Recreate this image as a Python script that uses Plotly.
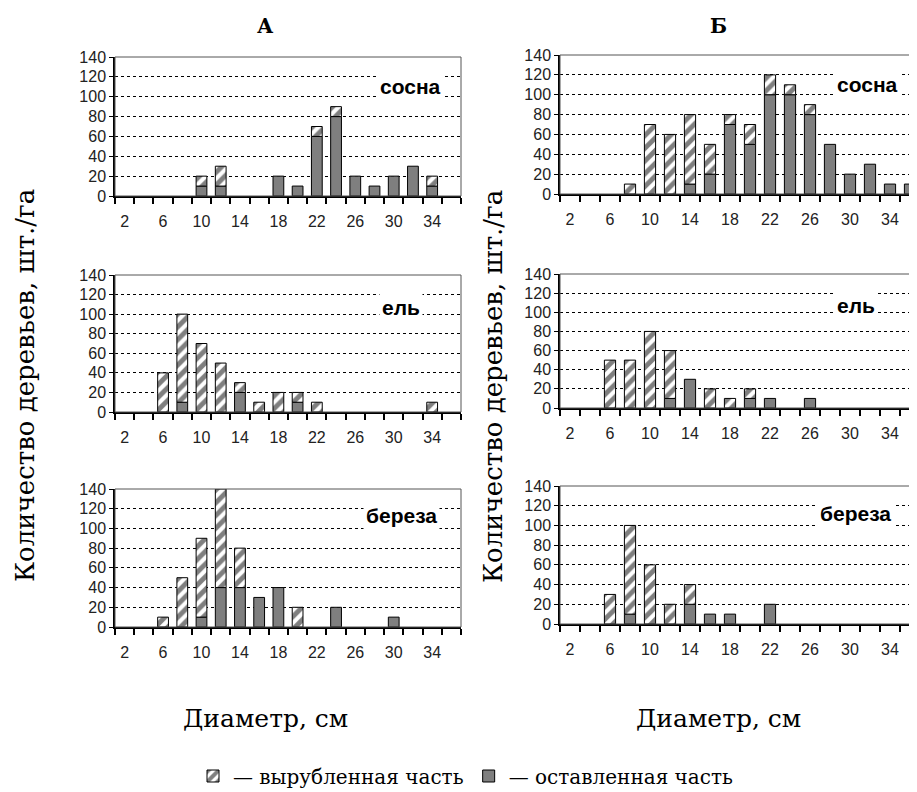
import plotly.graph_objects as go

W, H = 917, 792
OFF = 8  # page body margin offset in the browser

diam = [2, 4, 6, 8, 10, 12, 14, 16, 18, 20, 22, 24, 26, 28, 30, 32, 34, 36]
tick_labels = ["2", "6", "10", "14", "18", "22", "26", "30", "34"]

# "оставленная часть" (kept, grey) and "вырубленная часть" (cut, hatched)
A_pine_kept = [0, 0, 0, 0, 10, 10, 0, 0, 20, 10, 60, 80, 20, 10, 20, 30, 10, 0]
A_pine_cut = [0, 0, 0, 0, 10, 20, 0, 0, 0, 0, 10, 10, 0, 0, 0, 0, 10, 0]
A_spruce_kept = [0, 0, 0, 10, 0, 0, 20, 0, 0, 10, 0, 0, 0, 0, 0, 0, 0, 0]
A_spruce_cut = [0, 0, 40, 90, 70, 50, 10, 10, 20, 10, 10, 0, 0, 0, 0, 0, 10, 0]
A_birch_kept = [0, 0, 0, 0, 10, 40, 40, 30, 40, 0, 0, 20, 0, 0, 10, 0, 0, 0]
A_birch_cut = [0, 0, 10, 50, 80, 100, 40, 0, 0, 20, 0, 0, 0, 0, 0, 0, 0, 0]

B_pine_kept = [0, 0, 0, 0, 0, 0, 10, 20, 70, 50, 100, 100, 80, 50, 20, 30, 10, 10]
B_pine_cut = [0, 0, 0, 10, 70, 60, 70, 30, 10, 20, 20, 10, 10, 0, 0, 0, 0, 0]
B_spruce_kept = [0, 0, 0, 0, 0, 10, 30, 0, 0, 10, 10, 0, 10, 0, 0, 0, 0, 0]
B_spruce_cut = [0, 0, 50, 50, 80, 50, 0, 20, 10, 10, 0, 0, 0, 0, 0, 0, 0, 0]
B_birch_kept = [0, 0, 0, 10, 0, 0, 20, 10, 10, 0, 20, 0, 0, 0, 0, 0, 0, 0]
B_birch_cut = [0, 0, 30, 90, 60, 20, 20, 0, 0, 0, 0, 0, 0, 0, 0, 0, 0, 0]

species = ["сосна", "ель", "береза"]
col_titles = ["А", "Б"]
y_title = "Количество деревьев, шт./га"
x_title = "Диаметр, см"
legend_cut = "— вырубленная часть"
legend_kept = "— оставленная часть"


def px(x):
    return (x - OFF) / W


def py(y):
    return 1 - (y - OFF) / H


panels = [
    # (kept, cut, x-domain px, y-domain px (top,bottom), x range, label center px)
    (A_pine_kept, A_pine_cut, (115, 461), (57, 196), (1, 37), (410, 87)),
    (A_spruce_kept, A_spruce_cut, (115, 461), (275, 412), (1, 37), (401, 307)),
    (A_birch_kept, A_birch_cut, (115, 461), (489, 627), (1, 37), (401, 515)),
    (B_pine_kept, B_pine_cut, (560, 925), (55, 194), (1, 37.5), (867, 85)),
    (B_spruce_kept, B_spruce_cut, (560, 925), (274, 408), (1, 37.5), (856, 305)),
    (B_birch_kept, B_birch_cut, (560, 925), (486, 624), (1, 37.5), (855, 513)),
]
panel_species = [0, 1, 2, 0, 1, 2]


def nz(vals):
    return [v if v else None for v in vals]


fig = go.Figure()
tickfont = dict(family="Liberation Sans, Arial", size=16, color="#222")

for i, (kept, cut, xd, yd, xr, lab) in enumerate(panels):
    n = i + 1
    xa = "x" if n == 1 else f"x{n}"
    ya = "y" if n == 1 else f"y{n}"
    fig.add_trace(go.Bar(
        x=diam, y=nz(kept), xaxis=xa, yaxis=ya, width=1.12,
        marker=dict(color="#7f7f7f", line=dict(color="black", width=1)),
        name=legend_kept, legendgroup="kept", showlegend=(n == 1), legendrank=2,
    ))
    fig.add_trace(go.Bar(
        x=diam, y=nz(cut), xaxis=xa, yaxis=ya, width=1.12, base=kept,
        marker=dict(color="white", line=dict(color="black", width=1),
                    pattern=dict(shape="/", fgcolor="black", bgcolor="white",
                                 size=9, solidity=0.55)),
        name=legend_cut, legendgroup="cut", showlegend=(n == 1), legendrank=1,
    ))
    xkey = "xaxis" if n == 1 else f"xaxis{n}"
    ykey = "yaxis" if n == 1 else f"yaxis{n}"
    fig.update_layout(**{
        xkey: dict(
            domain=[px(xd[0]), min(px(xd[1]), 1.0)], anchor=ya, range=list(xr),
            tickmode="array", tickvals=[int(t) for t in tick_labels], ticktext=tick_labels,
            ticks="", showgrid=False, zeroline=False,
            showline=True, linecolor="black", linewidth=2,
            tickfont=tickfont, ticklabelstandoff=10,
            minor=dict(tickmode="array", tickvals=list(range(1, 38, 2)), ticks="outside",
                       ticklen=6, tickwidth=1.5, tickcolor="black", showgrid=False),
            fixedrange=True, automargin=False,
        ),
        ykey: dict(
            domain=[py(yd[1]), py(yd[0])], anchor=xa, range=[0, 140],
            tickmode="linear", tick0=0, dtick=20,
            ticks="outside", ticklen=4, tickcolor="black", tickwidth=1,
            showgrid=True, gridcolor="black", gridwidth=1, griddash="3px,3px",
            zeroline=False, showline=True, linecolor="black", linewidth=1.5,
            tickfont=tickfont, fixedrange=True, automargin=False,
        ),
    })
    fig.add_shape(type="rect", xref=f"{xa} domain", yref=f"{ya} domain",
                  x0=0, x1=1, y0=0, y1=1, line=dict(color="#555", width=1),
                  layer="above")
    fig.add_annotation(
        x=px(lab[0]), y=py(lab[1]), xref="paper", yref="paper",
        text=f"<b>{species[panel_species[i]]}</b>", showarrow=False,
        font=dict(family="Liberation Sans, Arial", size=21, color="black"),
        bgcolor="white", borderpad=2, xanchor="center", yanchor="middle",
    )

serif = "DejaVu Serif, serif"
for cx, t in zip([265, 718], col_titles):
    fig.add_annotation(x=px(cx), y=py(26), xref="paper", yref="paper",
                       text=f"<b>{t}</b>", showarrow=False,
                       font=dict(family=serif, size=20, color="black"),
                       xanchor="center", yanchor="middle")
for cx in [265, 718]:
    fig.add_annotation(x=px(cx), y=py(718), xref="paper", yref="paper",
                       text=x_title, showarrow=False,
                       font=dict(family=serif, size=25, color="black"),
                       xanchor="center", yanchor="middle")
for cx in [25, 493]:
    fig.add_annotation(x=px(cx), y=py(386), xref="paper", yref="paper",
                       text=y_title, showarrow=False, textangle=-90,
                       font=dict(family=serif, size=26, color="black"),
                       xanchor="center", yanchor="middle")

fig.update_layout(
    width=W, height=H, barmode="overlay",
    margin=dict(l=0, r=0, t=0, b=0, autoexpand=False),
    paper_bgcolor="white", plot_bgcolor="white",
    showlegend=True,
    legend=dict(orientation="h", x=px(466), xanchor="center", y=py(776),
                yanchor="middle", font=dict(family=serif, size=20, color="black"),
                itemwidth=30, tracegroupgap=0, bgcolor="rgba(0,0,0,0)"),
)

fig.write_html("out.html")
